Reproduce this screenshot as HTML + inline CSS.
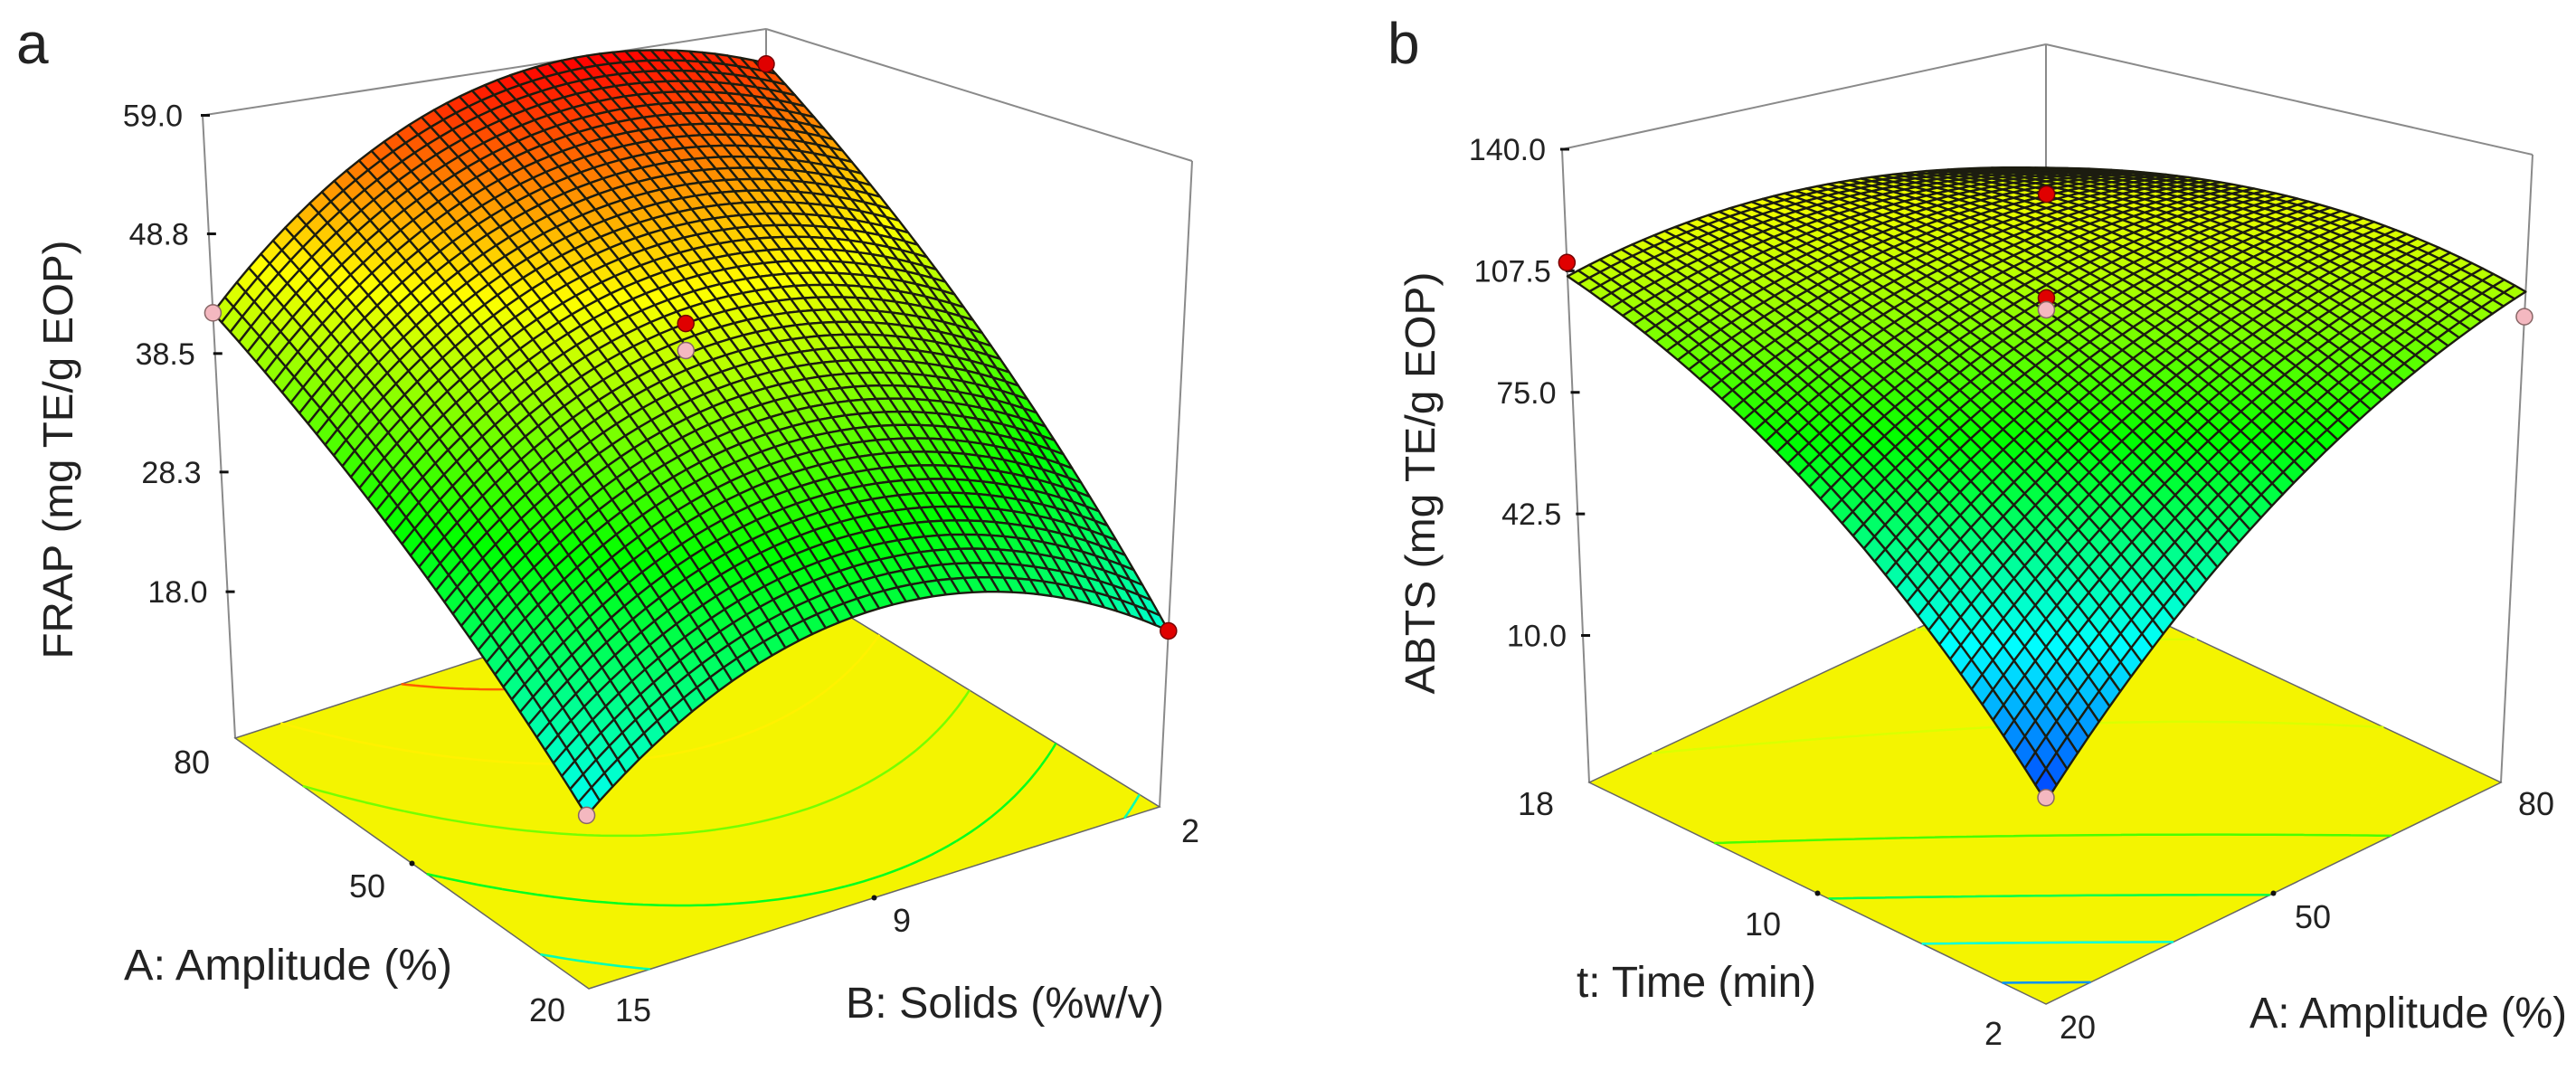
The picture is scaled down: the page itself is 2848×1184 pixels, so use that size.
<!DOCTYPE html>
<html><head><meta charset="utf-8"><style>
html,body{margin:0;padding:0;background:#fff;}
svg{display:block;}
text{font-family:"Liberation Sans",Arial,sans-serif;fill:#222;}
</style></head><body>
<svg id="chart" width="2848" height="1184" viewBox="0 0 2848 1184" xmlns="http://www.w3.org/2000/svg">
<rect width="2848" height="1184" fill="#fff"/>
<g id="pa"></g>
<g id="pb"></g>
<g id="labels">
<text x="18" y="70" font-size="64">a</text>
<text x="1534" y="70" font-size="64">b</text>
<text transform="translate(80,497) rotate(-90)" text-anchor="middle" font-size="46" textLength="463" lengthAdjust="spacingAndGlyphs">FRAP (mg TE/g EOP)</text>
<text transform="translate(1586,534) rotate(-90)" text-anchor="middle" font-size="46" textLength="467" lengthAdjust="spacingAndGlyphs">ABTS (mg TE/g EOP)</text>
<text x="137" y="1083" font-size="48" textLength="363" lengthAdjust="spacingAndGlyphs">A: Amplitude (%)</text>
<text x="935" y="1125" font-size="48" textLength="352" lengthAdjust="spacingAndGlyphs">B: Solids (%w/v)</text>
<text x="1743" y="1102" font-size="48" textLength="265" lengthAdjust="spacingAndGlyphs">t: Time (min)</text>
<text x="2487" y="1136" font-size="48" textLength="351" lengthAdjust="spacingAndGlyphs">A: Amplitude (%)</text>
<g font-size="36" text-anchor="middle">
<text x="212" y="855">80</text><text x="406" y="992">50</text><text x="605" y="1129">20</text>
<text x="700" y="1129">15</text><text x="997" y="1030">9</text><text x="1316" y="931">2</text>
</g>
<g font-size="36" text-anchor="middle">
<text x="1698" y="901">18</text><text x="1949" y="1034">10</text><text x="2204" y="1155">2</text>
<text x="2297" y="1148">20</text><text x="2557" y="1026">50</text><text x="2804" y="901">80</text>
</g>
</g>
</svg>
<script>
// ---- Panel a data (FRAP) ----
const frapCoef = [43.8, 14.8, 3.8, 2.98, -0.8, -9.0]; // c, A, B, AB, A^2, B^2 (coded)
const frapTickVals = [59.0, 48.8, 38.5, 28.3, 18.0];
const frapTickLabels = ["59.0", "48.8", "38.5", "28.3", "18.0"];
const frapPointsA = [-1, 1, 1, -1, 0, 0];
const frapPointsB = [-1, -1, 1, 1, 0, 0];
const frapPointsZ = [18.4, 42.0, 55.5, 20.0, 43.8, 41.5];
const frapPointsAbove = [0, 0, 1, 1, 1, 0];
const frapContours = [22, 30, 38, 46, 54];
// ---- Panel b data (ABTS) ----
const abtsCoef = [102, 21.25, 19.75, -22.75, -10.1, -10.1]; // c, t, A, tA, t^2, A^2 (coded)
const abtsTickVals = [140.0, 107.5, 75.0, 42.5, 10.0];
const abtsTickLabels = ["140.0", "107.5", "75.0", "42.5", "10.0"];
const abtsPointsA = [1, -1, 0, 0, 0, -1];
const abtsPointsB = [-1, 1, 0, 0, 0, -1];
const abtsPointsZ = [109.7, 96.3, 130, 102, 98.8, 19];
const abtsPointsAbove = [1, 0, 1, 1, 0, 0];
const abtsContours = [30, 50, 70, 90, 110];

const NS = "http://www.w3.org/2000/svg";
function cmap(t){
  t = Math.max(0, Math.min(1, t));
  const stops = [[0,0,255],[0,255,255],[0,255,0],[255,255,0],[255,0,0]];
  const s = t*4, i = Math.min(3, Math.floor(s)), f = s - i;
  const a = stops[i], b = stops[i+1];
  return "rgb(" + [0,1,2].map(k => Math.round(a[k] + (b[k]-a[k])*f)).join(",") + ")";
}
function el(parent, tag, attrs){
  const e = document.createElementNS(NS, tag);
  for (const k in attrs) e.setAttribute(k, attrs[k]);
  parent.appendChild(e);
  return e;
}
function panel(g, cfg){
  const F = cfg.floor, T = cfg.top;
  function bil(C, u, v){
    return [C[0][0]*(1-u)*(1-v) + C[1][0]*u*(1-v) + C[2][0]*(1-u)*v + C[3][0]*u*v,
            C[0][1]*(1-u)*(1-v) + C[1][1]*u*(1-v) + C[2][1]*(1-u)*v + C[3][1]*u*v];
  }
  function proj(u, v, z){
    const f = bil(F,u,v), t = bil(T,u,v);
    const w = (z - cfg.zmin)/(cfg.zmax - cfg.zmin);
    return [f[0] + (t[0]-f[0])*w, f[1] + (t[1]-f[1])*w];
  }
  const c = cfg.coef;
  function zf(u, v){
    const a = 2*u-1, b = 2*v-1;
    return c[0] + c[1]*a + c[2]*b + c[3]*a*b + c[4]*a*a + c[5]*b*b;
  }
  const box = el(g, "g", {stroke:"#8a8a8a", "stroke-width":2, fill:"none"});
  
  
  const lines = [[T[1],F[1]],[T[1],T[3]],[T[3],T[2]],[T[2],F[2]],[T[3],F[3]]];
  lines.forEach(l => el(box, "line", {x1:l[0][0], y1:l[0][1], x2:l[1][0], y2:l[1][1]}));
  const floor = el(g, "polygon", {points:[F[0],F[1],F[3],F[2]].map(p=>p.join(",")).join(" "), fill:"#f4f400", stroke:"#666", "stroke-width":1.5});
  
  
  const N = 60;
  const cg = el(g, "g", {fill:"none", "stroke-width":2.5});
  
  
  cfg.contours.forEach(level => {
    let d = "";
    for (let i=0;i<N;i++) for (let j=0;j<N;j++){
      const u0=i/N, u1=(i+1)/N, v0=j/N, v1=(j+1)/N;
      const corners = [[u0,v0],[u1,v0],[u1,v1],[u0,v1]];
      const vals = corners.map(p => zf(p[0],p[1]) - level);
      const pts = [];
      for (let k=0;k<4;k++){
        const p = corners[k], q = corners[(k+1)%4], a = vals[k], b = vals[(k+1)%4];
        if ((a<0) !== (b<0)){
          const t = a/(a-b);
          pts.push(proj(p[0]+(q[0]-p[0])*t, p[1]+(q[1]-p[1])*t, cfg.zmin));
        }
      }
      if (pts.length >= 2) d += "M"+pts[0][0].toFixed(1)+","+pts[0][1].toFixed(1)+"L"+pts[1][0].toFixed(1)+","+pts[1][1].toFixed(1);
    }
    const p = el(cg, "path", {d:d, stroke:cmap((level-cfg.clo)/(cfg.chi-cfg.clo))});
    
    
  });
  [[F[0],F[1]],[F[0],F[2]]].forEach(e => {
    [0.5].forEach(t => {
      const d = el(g, "circle", {cx:e[0][0]+(e[1][0]-e[0][0])*t, cy:e[0][1]+(e[1][1]-e[0][1])*t, r:3, fill:"#111"});
      
      
    });
  });
  const G = 44;
  const sg = el(g, "g", {stroke:"#1c1c10", "stroke-width":2.4, "stroke-linejoin":"round"});
  
  
  const cells = [];
  for (let i=0;i<G;i++) for (let j=0;j<G;j++) cells.push([i,j]);
  cells.sort((A,B) => (B[0]+B[1]) - (A[0]+A[1]));
  cells.forEach(([i,j]) => {
    const u0=i/G, u1=(i+1)/G, v0=j/G, v1=(j+1)/G;
    const q = [[u0,v0],[u1,v0],[u1,v1],[u0,v1]].map(p => proj(p[0],p[1],zf(p[0],p[1])));
    const zm = zf((u0+u1)/2,(v0+v1)/2);
    const p = el(sg, "polygon", {points:q.map(p=>p[0].toFixed(1)+","+p[1].toFixed(1)).join(" "), fill:cmap((zm-cfg.clo)/(cfg.chi-cfg.clo))});
    
    
  });
  cfg.tickVals.forEach((v, k) => {
    const p = proj(1, 0, v);
    const tk = el(g, "line", {x1:p[0]-2, y1:p[1], x2:p[0]+8, y2:p[1], stroke:"#111", "stroke-width":3});
    
    
    const t = el(g, "text", {x:p[0]-cfg.tickOff, y:p[1]+12, "font-size":34, "text-anchor":"end"});
    t.textContent = cfg.tickLabels[k];
    
    
  });
  cfg.pa.forEach((a, k) => {
    const u = (a+1)/2, v = (cfg.pb[k]+1)/2;
    const p = proj(u, v, cfg.pz[k]);
    const red = cfg.above[k] === 1;
    const d = el(g, "circle", {cx:p[0], cy:p[1], r:9, fill: red ? "#e00000" : "#f4b8c0", stroke: red ? "#700" : "#866", "stroke-width":1.5});
    
    
  });
}
panel(document.getElementById("pa"), {
  floor:[[651,1093],[260,816],[1282,892],[847,625]],
  top:[[641,303],[224,127.5],[1318,178],[847,32]],
  zmin:5.4, zmax:59, clo:4.3, chi:59,
  coef:frapCoef, tickVals:frapTickVals, tickLabels:frapTickLabels, tickOff:22,
  pa:frapPointsA, pb:frapPointsB, pz:frapPointsZ, above:frapPointsAbove, contours:frapContours
});
panel(document.getElementById("pb"), {
  floor:[[2262,1110],[1757,865],[2765,865],[2262,628]],
  top:[[2262,310],[1727,165],[2800,171],[2262,49]],
  zmin:-29.3, zmax:140, clo:10, chi:150,
  coef:abtsCoef, tickVals:abtsTickVals, tickLabels:abtsTickLabels, tickOff:18,
  pa:abtsPointsA, pb:abtsPointsB, pz:abtsPointsZ, above:abtsPointsAbove, contours:abtsContours
});
</script>
</body></html>
